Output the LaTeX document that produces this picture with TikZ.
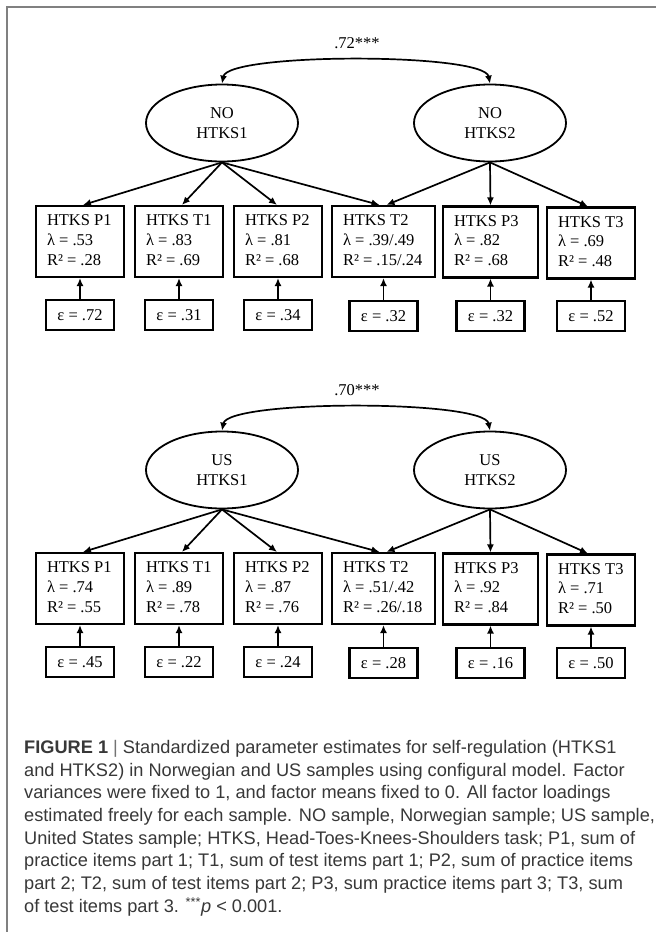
\documentclass[tikz,border=0pt]{standalone}
\usepackage{fontspec}
\setmainfont{Liberation Serif}
\newfontfamily\capfont{Liberation Sans}
\usetikzlibrary{arrows.meta,shapes.geometric,calc}
\newcommand\boxtxt[4]{\makebox[#1][l]{\hspace{11pt}\begin{tabular}{@{}l@{}}#2\\#3\\#4\end{tabular}}}
\begin{document}
\begin{tikzpicture}[x=1pt,y=-1pt,
  mbox/.style={draw,line width=2.1pt,minimum height=71pt,inner sep=0pt,font=\fontsize{16.5}{19.8}\selectfont},
  ebox/.style={draw,line width=2.1pt,minimum width=68pt,minimum height=30pt,inner sep=0pt,font=\fontsize{16.5}{19.8}\selectfont},
  lat/.style={draw,ellipse,line width=1.8pt,minimum width=152pt,minimum height=77pt,inner sep=0pt,align=center,font=\fontsize{16.5}{20}\selectfont},
  corr/.style={font=\fontsize{16.5}{20}\selectfont},
  arr/.style={line width=1.7pt,-{Latex[length=8pt,width=7pt]}},
  darr/.style={line width=1.7pt,{Latex[length=8pt,width=7pt]}-{Latex[length=8pt,width=7pt]}},
  frameline/.style={draw=black!50,line width=1.2pt},
  captext/.style={anchor=north west,align=left,inner sep=0pt,text=black!78,font=\capfont\fontsize{18.2}{22.7}\selectfont}]
\useasboundingbox (0,0) rectangle (656,932);
\fill[white] (0,0) rectangle (656,932);
\coordinate (fa) at (7,932);
\coordinate (fb) at (7,7);
\coordinate (fc) at (656,7);
\draw[frameline] (fa) -- (fb) -- (fc);

% ---------- top panel (NO) ----------
\node[corr] (c1) at (357,43) {.72***};
\node[lat] (L1) at (222,123) {NO\\HTKS1};
\node[lat] (L2) at (490,123) {NO\\HTKS2};
\draw[darr] (L1.north) .. controls ($(L1.north)+(6,-31)$) and ($(L2.north)+(-6,-31)$) .. (L2.north);

\node[mbox] (n1) at (80,241.5) {\boxtxt{88pt}{HTKS P1}{λ = .53}{R² = .28}};
\node[mbox] (n2) at (179,241.5) {\boxtxt{88pt}{HTKS T1}{λ = .83}{R² = .69}};
\node[mbox] (n3) at (278,241.5) {\boxtxt{88pt}{HTKS P2}{λ = .81}{R² = .68}};
\node[mbox] (n4) at (383.5,241.5) {\boxtxt{103pt}{HTKS T2}{λ = .39/.49}{R² = .15/.24}};
\node[mbox] (n5) at (490.5,242) {\boxtxt{95pt}{HTKS P3}{λ = .82}{R² = .68}};
\node[mbox] (n6) at (591,243) {\boxtxt{88pt}{HTKS T3}{λ = .69}{R² = .48}};

\node[ebox] (e1) at (80,315) {ε = .72};
\node[ebox] (e2) at (179,315) {ε = .31};
\node[ebox] (e3) at (278,315) {ε = .34};
\node[ebox] (e4) at (383.5,316) {ε = .32};
\node[ebox] (e5) at (490.5,316) {ε = .32};
\node[ebox] (e6) at (591,316) {ε = .52};

\draw[arr] (L1.south) -- ($(n1.north)+(3,0)$);
\draw[arr] (L1.south) -- ($(n2.north)+(3,0)$);
\draw[arr] (L1.south) -- ($(n3.north)+(-1,0)$);
\draw[arr] (L1.south) -- ($(n4.north)+(-4,0)$);
\draw[arr] (L2.south) -- ($(n4.north)+(3,0)$);
\draw[arr] (L2.south) -- (n5.north);
\draw[arr] (L2.south) -- ($(n6.north)+(-3,0)$);
\foreach \i in {1,...,6}{\draw[arr] (e\i.north) -- (n\i.south);}

% ---------- bottom panel (US) ----------
\node[corr] (c2) at (357,390) {.70***};
\node[lat] (U1) at (222,470) {US\\HTKS1};
\node[lat] (U2) at (490,470) {US\\HTKS2};
\draw[darr] (U1.north) .. controls ($(U1.north)+(6,-31)$) and ($(U2.north)+(-6,-31)$) .. (U2.north);

\node[mbox] (m1) at (80,588.5) {\boxtxt{88pt}{HTKS P1}{λ = .74}{R² = .55}};
\node[mbox] (m2) at (179,588.5) {\boxtxt{88pt}{HTKS T1}{λ = .89}{R² = .78}};
\node[mbox] (m3) at (278,588.5) {\boxtxt{88pt}{HTKS P2}{λ = .87}{R² = .76}};
\node[mbox] (m4) at (383.5,588.5) {\boxtxt{103pt}{HTKS T2}{λ = .51/.42}{R² = .26/.18}};
\node[mbox] (m5) at (490.5,589) {\boxtxt{95pt}{HTKS P3}{λ = .92}{R² = .84}};
\node[mbox] (m6) at (591,590) {\boxtxt{88pt}{HTKS T3}{λ = .71}{R² = .50}};

\node[ebox] (f1) at (80,662) {ε = .45};
\node[ebox] (f2) at (179,662) {ε = .22};
\node[ebox] (f3) at (278,662) {ε = .24};
\node[ebox] (f4) at (383.5,663) {ε = .28};
\node[ebox] (f5) at (490.5,663) {ε = .16};
\node[ebox] (f6) at (591,663) {ε = .50};

\draw[arr] (U1.south) -- ($(m1.north)+(3,0)$);
\draw[arr] (U1.south) -- ($(m2.north)+(3,0)$);
\draw[arr] (U1.south) -- ($(m3.north)+(-1,0)$);
\draw[arr] (U1.south) -- ($(m4.north)+(-4,0)$);
\draw[arr] (U2.south) -- ($(m4.north)+(3,0)$);
\draw[arr] (U2.south) -- (m5.north);
\draw[arr] (U2.south) -- ($(m6.north)+(-3,0)$);
\foreach \i in {1,...,6}{\draw[arr] (f\i.north) -- (m\i.south);}

% ---------- caption ----------
\node[captext] (captxt) at (24,740) {{\bfseries FIGURE 1} {\color{black!55}|} Standardized parameter estimates for self-regulation (HTKS1\\
and HTKS2) in Norwegian and US samples using configural model. Factor\\
variances were fixed to 1, and factor means fixed to 0. All factor loadings\\
estimated freely for each sample. NO sample, Norwegian sample; US sample,\\
United States sample; HTKS, Head-Toes-Knees-Shoulders task; P1, sum of\\
practice items part 1; T1, sum of test items part 1; P2, sum of practice items\\
part 2; T2, sum of test items part 2; P3, sum practice items part 3; T3, sum\\
of test items part 3. \textsuperscript{***}\textit{p} < 0.001.};
\end{tikzpicture}
\end{document}
